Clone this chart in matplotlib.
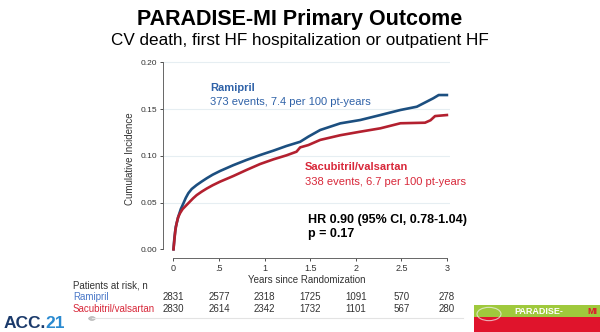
import matplotlib
matplotlib.use("Agg")
import matplotlib.pyplot as plt
from matplotlib.patches import Rectangle, Circle
from matplotlib import transforms

# ---- data ----
ram_t = [0, 0.01, 0.025, 0.053, 0.08, 0.108, 0.135, 0.163, 0.2, 0.255, 0.31, 0.365, 0.43, 0.51,
         0.657, 0.80, 0.95, 1.096, 1.24, 1.39, 1.48, 1.61, 1.83, 2.05, 2.27, 2.49, 2.67,
         2.78, 2.85, 2.91, 3.0]
ram_v = [0, 0.012, 0.024, 0.035, 0.043, 0.049, 0.055, 0.060, 0.0645, 0.0688, 0.0725, 0.076, 0.0798,
         0.0837, 0.090, 0.0955, 0.1008, 0.1055, 0.1105, 0.115, 0.1205, 0.1276, 0.1347, 0.1383,
         0.1436, 0.149, 0.1525, 0.158, 0.1615, 0.165, 0.165]
sac_t = [0, 0.01, 0.02, 0.035, 0.05, 0.071, 0.1, 0.126, 0.15, 0.18, 0.215, 0.255, 0.31, 0.365,
         0.43, 0.51, 0.657, 0.80, 0.95, 1.096, 1.24, 1.35, 1.39, 1.48, 1.61, 1.83, 2.05, 2.27,
         2.49, 2.76, 2.82, 2.87, 3.0]
sac_v = [0, 0.010, 0.020, 0.028, 0.034, 0.0385, 0.043, 0.0456, 0.048, 0.051, 0.0545, 0.058, 0.0617,
         0.065, 0.0685, 0.0723, 0.0784, 0.0848, 0.0912, 0.0962, 0.1005, 0.1044, 0.109, 0.1115,
         0.117, 0.122, 0.1258, 0.1294, 0.1348, 0.1354, 0.138, 0.1425, 0.1436]
x_ticks = [0, 0.5, 1, 1.5, 2, 2.5, 3]
x_tick_labels = ["0", ".5", "1", "1.5", "2", "2.5", "3"]
y_ticks = [0.0, 0.05, 0.10, 0.15, 0.20]
y_tick_labels = ["0.00", "0.05", "0.10", "0.15", "0.20"]
risk_ram = [2831, 2577, 2318, 1725, 1091, 570, 278]
risk_sac = [2830, 2614, 2342, 1732, 1101, 567, 280]

W, H = 600, 332
plt.rcParams['font.family'] = ['Liberation Sans', 'DejaVu Sans']
fig = plt.figure(figsize=(W / 100, H / 100), dpi=100)
fig.patch.set_facecolor('white')


def fx(px):
    return px / W


def fy(py):
    return 1 - py / H


BLUE_L = '#1c4f80'
RED_L = '#b3202f'
BLUE_T = '#2f62a8'
RED_T = '#d8283a'

ax = fig.add_axes([fx(163), fy(258), fx(450) - fx(163), fy(59.5) - fy(258)])
ax.set_xlim(-0.115, 3.034)
ax.set_ylim(-0.0093, 0.203)
for yv in y_ticks[1:]:
    ax.axhline(yv, color='#e6eef2', lw=0.8, zorder=0)
ax.plot(ram_t, ram_v, color=BLUE_L, lw=1.9, zorder=3, solid_joinstyle='round')
ax.plot(sac_t, sac_v, color=RED_L, lw=1.9, zorder=3, solid_joinstyle='round')

for s in ['top', 'right']:
    ax.spines[s].set_visible(False)
ax.spines['left'].set_bounds(0, 0.20)
ax.spines['bottom'].set_bounds(0, 3)
for s in ['left', 'bottom']:
    ax.spines[s].set_color('#666666')
    ax.spines[s].set_linewidth(0.7)
ax.set_xticks(x_ticks)
ax.set_xticklabels(x_tick_labels)
ax.set_yticks(y_ticks)
ax.set_yticklabels(y_tick_labels)
ax.tick_params(axis='y', labelsize=6, colors='#333333', length=2.5, width=0.6, pad=1.5)
ax.tick_params(axis='x', labelsize=6.5, colors='#333333', length=2.5, width=0.6, pad=1.5)
ax.set_ylabel("Cumulative Incidence", fontsize=7, color='#333333', labelpad=4)
ax.set_xlabel("Years since Randomization", fontsize=7, color='#333333', labelpad=2)

# annotations
fig.text(fx(210), fy(88), "Ramipril", fontsize=8, fontweight='bold', color=BLUE_T, va='center')
fig.text(fx(210), fy(102), "373 events, 7.4 per 100 pt-years", fontsize=8, color=BLUE_T, va='center')
fig.text(fx(305), fy(167), "Sacubitril/valsartan", fontsize=8, fontweight='bold', color=RED_T, va='center')
fig.text(fx(305), fy(182), "338 events, 6.7 per 100 pt-years", fontsize=8, color=RED_T, va='center')
fig.text(fx(308), fy(220), "HR 0.90 (95% CI, 0.78-1.04)", fontsize=9, fontweight='bold', color='black', va='center')
fig.text(fx(308), fy(234), "p = 0.17", fontsize=9, fontweight='bold', color='black', va='center')

# titles
fig.text(0.5, fy(25), "PARADISE-MI Primary Outcome", fontsize=15.5, fontweight='bold', ha='center',
         va='baseline')
fig.text(0.5, fy(45), "CV death, first HF hospitalization or outpatient HF", fontsize=12.3, ha='center',
         va='baseline')

# risk table
fig.text(fx(73), fy(285), "Patients at risk, n", fontsize=7, color='#333333', va='center')
fig.text(fx(73), fy(297), "Ramipril", fontsize=7, color='#4a78c8', va='center')
fig.text(fx(73), fy(309), "Sacubitril/valsartan", fontsize=7, color=RED_T, va='center')
bt = transforms.blended_transform_factory(ax.transData, fig.transFigure)
for xv, a, b in zip(x_ticks, risk_ram, risk_sac):
    fig.text(xv, fy(297), str(a), fontsize=7, color='#333333', ha='center', va='center', transform=bt)
    fig.text(xv, fy(309), str(b), fontsize=7, color='#333333', ha='center', va='center', transform=bt)

# slider line & dot
fig.add_artist(plt.Line2D([fx(92), fx(463)], [fy(317.5), fy(317.5)], color='#e3e3e3', lw=0.8))
fig.add_artist(Circle((fx(92), fy(318.5)), 0.0055, transform=fig.transFigure,
                      facecolor='#c4c4c4', edgecolor='#b0b0b0', lw=0.5))

# ACC.21
fam = ['Liberation Sans Narrow', 'Liberation Sans', 'DejaVu Sans']
t1 = fig.text(fx(4), fy(328), "ACC.", fontsize=12.5, fontweight='bold', color='#1b3a6b',
              va='baseline', family=fam)
fig.canvas.draw()
bb = t1.get_window_extent(renderer=fig.canvas.get_renderer())
fig.text((bb.x1 - 0.5) / W, fy(328), "21", fontsize=12.5, fontweight='bold', color='#2a8ad0',
         va='baseline', family=fam)

# logo
fig.add_artist(Rectangle((fx(474), fy(332)), fx(600) - fx(474), fy(305) - fy(332),
                         transform=fig.transFigure, facecolor='#e0142c', edgecolor='none'))
fig.add_artist(Rectangle((fx(474), fy(316.5)), fx(600) - fx(474), fy(305) - fy(316.5),
                         transform=fig.transFigure, facecolor='#9fc93c', edgecolor='none'))
fig.text(fx(514), fy(311), "PARADISE-", fontsize=6.5, fontweight='bold', color='white', va='center')
fig.text(fx(587), fy(311), "MI", fontsize=6.5, fontweight='bold', color='#e0142c', va='center')
fig.add_artist(Circle((fx(489), fy(314)), 0.02, transform=fig.transFigure,
                      facecolor='none', edgecolor='#f2f2f2', lw=0.8, alpha=0.7))

fig.savefig("out.png", dpi=100, facecolor='white')
